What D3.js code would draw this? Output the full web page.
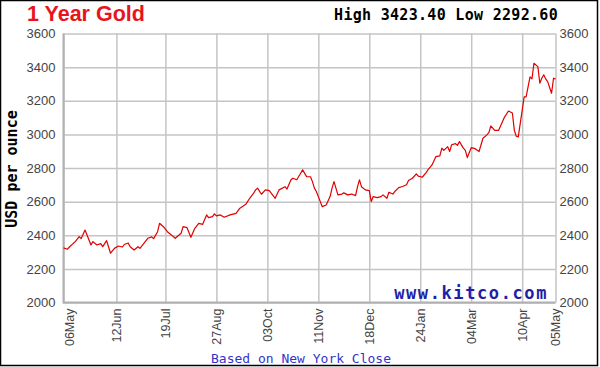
<!DOCTYPE html>
<html>
<head>
<meta charset="utf-8">
<script src="https://cdn.jsdelivr.net/npm/d3@7"></script>
<style>
  html, body { margin: 0; padding: 0; background: #fff; }
</style>
</head>
<body>
<div id="chart"></div>
<script>
// Set dimensions
const width = 600;
const height = 367;
const plot = { left: 63.5, right: 555.5, top: 33.5, bottom: 302.5 };

// trading-day index (0 = 06May) and NY close
const days = [0,2,3,5,6,8,9,11,12,14,15,17,19,20,22,24,26,28,30,31,33,34,36,38,39,41,43,45,46,48,49,51,53,55,57,
  60,61,63,65,67,69,71,73,74,76,77,78,80,82,85,88,90,93,95,97,98,99,101,103,105,108,110,113,114,116,117,119,121,122,
  124,126,127,128,129,131,132,134,136,137,138,140,142,143,145,147,149,150,151,152,154,156,157,158,160,162,163,165,166,168,169,171,173,
  175,176,178,180,181,183,185,186,188,190,192,193,194,196,197,198,200,201,202,204,205,206,208,210,212,214,216,217,218,220,222,225,
  227,229,230,231,232,234,235,236,238,239,240,242,243,244,245,246,247,249,250,251];
const prices = [2325,2317,2330,2352,2362,2392,2380,2431,2402,2342,2362,2342,2350,2332,2368,2293,2322,2336,2330,2345,2354,2332,2312,2332,2322,2352,2382,2390,2380,2421,2471,2451,2421,2402,2382,
  2412,2451,2445,2388,2441,2471,2465,2521,2505,2511,2527,2515,2521,2507,2521,2530,2561,2584,2620,2650,2670,2680,2644,2670,2665,2620,2670,2689,2675,2729,2739,2730,2769,2789,
  2749,2748,2719,2680,2660,2600,2570,2580,2630,2680,2719,2640,2645,2652,2640,2645,2636,2689,2729,2689,2670,2665,2600,2630,2624,2630,2640,2620,2656,2645,2660,2683,2690,
  2700,2725,2739,2765,2752,2745,2773,2790,2818,2868,2872,2918,2905,2927,2898,2938,2945,2935,2957,2918,2905,2862,2921,2915,2898,2977,2997,3010,3050,3024,3024,3103,
  3139,3127,3024,2989,2985,3143,3223,3223,3342,3330,3423,3403,3304,3334,3354,3330,3314,3245,3334,3330];

// x axis ticks (trading-day index) and their labels
const tickDays = [0,27,52,78,104,130,156,182,208,234,251];
const tickLabels = ["06May","12Jun","19Jul","27Aug","03Oct","11Nov","18Dec","24Jan","04Mar","10Apr","05May"];
const yTicks = [2000,2200,2400,2600,2800,3000,3200,3400,3600];

const svg = d3.select("#chart")
  .append("svg")
  .attr("width", width)
  .attr("height", height)
  .style("display", "block");

svg.append("rect")
  .attr("x", 0.5).attr("y", 0.5)
  .attr("width", 597).attr("height", 365)
  .attr("fill", "#fff")
  .attr("stroke", "#000")
  .attr("stroke-width", 1.5);

const x = d3.scaleLinear().domain([0, 251]).range([plot.left, plot.right]);
const y = d3.scaleLinear().domain([2000, 3600]).range([plot.bottom, plot.top]);

const sans = "'Liberation Sans', Arial, sans-serif";
const mono = "'DejaVu Sans Mono', 'Liberation Mono', monospace";

// grid
svg.append("g")
  .attr("transform", `translate(${plot.left},0)`)
  .call(d3.axisLeft(y).tickValues(yTicks).tickSize(-(plot.right - plot.left)).tickFormat(""))
  .call(g => g.select(".domain").remove())
  .selectAll("line").attr("stroke", "#c4c4c4").attr("stroke-width", 1.5);

svg.append("g")
  .attr("transform", `translate(0,${plot.bottom})`)
  .call(d3.axisBottom(x).tickValues(tickDays).tickSize(-(plot.bottom - plot.top)).tickFormat(""))
  .call(g => g.select(".domain").remove())
  .selectAll("line").attr("stroke", "#c4c4c4").attr("stroke-width", 1.5);

// frame: left and bottom a bit heavier
svg.append("line")
  .attr("x1", plot.left).attr("x2", plot.left)
  .attr("y1", plot.top).attr("y2", plot.bottom + 1)
  .attr("stroke", "#b0b0b0").attr("stroke-width", 2);
svg.append("line")
  .attr("x1", plot.left).attr("x2", plot.right)
  .attr("y1", plot.bottom).attr("y2", plot.bottom)
  .attr("stroke", "#b0b0b0").attr("stroke-width", 2);

// y labels both sides
svg.append("g")
  .attr("transform", `translate(${plot.left},0)`)
  .call(d3.axisLeft(y).tickValues(yTicks).tickSize(0).tickPadding(8).tickFormat(d3.format("d")))
  .call(g => g.select(".domain").remove())
  .selectAll("text")
  .attr("fill", "#444")
  .style("font-family", sans)
  .style("font-size", "13px");

svg.append("g")
  .attr("transform", `translate(${plot.right},0)`)
  .call(d3.axisRight(y).tickValues(yTicks).tickSize(0).tickPadding(4).tickFormat(d3.format("d")))
  .call(g => g.select(".domain").remove())
  .selectAll("text")
  .attr("fill", "#444")
  .style("font-family", sans)
  .style("font-size", "13px");

// x labels, rotated
svg.append("g")
  .attr("transform", `translate(0,${plot.bottom})`)
  .call(d3.axisBottom(x).tickValues(tickDays).tickSize(0)
    .tickFormat((d, i) => tickLabels[i]))
  .call(g => g.select(".domain").remove())
  .selectAll("text")
  .attr("transform", "rotate(-90)")
  .attr("x", -6)
  .attr("y", (d, i) => i === 0 ? 6 : 0)
  .attr("dy", "0.35em")
  .attr("fill", "#444")
  .style("text-anchor", "end")
  .style("font-family", sans)
  .style("font-size", "12.5px");

// price line
const line = d3.line()
  .x((d, i) => x(days[i]))
  .y(d => y(d));

svg.append("path")
  .datum(prices)
  .attr("fill", "none")
  .attr("stroke", "#e00000")
  .attr("stroke-width", 1.2)
  .attr("stroke-linejoin", "round")
  .attr("d", line);

// texts
svg.append("text")
  .attr("x", 27).attr("y", 21)
  .attr("fill", "#e8141c")
  .style("font-family", sans)
  .style("font-weight", "bold")
  .style("font-size", "21.5px")
  .text("1 Year Gold");

svg.append("text")
  .attr("x", 558).attr("y", 20)
  .attr("text-anchor", "end")
  .attr("fill", "#000")
  .style("font-family", mono)
  .style("font-weight", "bold")
  .style("font-size", "15px")
  .style("letter-spacing", "0.3px")
  .text("High 3423.40 Low 2292.60");

svg.append("text")
  .attr("transform", "translate(17,169) rotate(-90)")
  .attr("text-anchor", "middle")
  .attr("fill", "#000")
  .style("font-family", mono)
  .style("font-weight", "bold")
  .style("font-size", "15px")
  .text("USD per ounce");

svg.append("text")
  .attr("x", 548).attr("y", 299)
  .attr("text-anchor", "end")
  .attr("fill", "#1f1fa8")
  .style("font-family", mono)
  .style("font-weight", "bold")
  .style("font-size", "17px")
  .style("letter-spacing", "1.6px")
  .text("www.kitco.com");

svg.append("text")
  .attr("x", 301).attr("y", 363)
  .attr("text-anchor", "middle")
  .attr("fill", "#3333cc")
  .style("font-family", mono)
  .style("font-size", "13px")
  .text("Based on New York Close");
</script>
</body>
</html>
